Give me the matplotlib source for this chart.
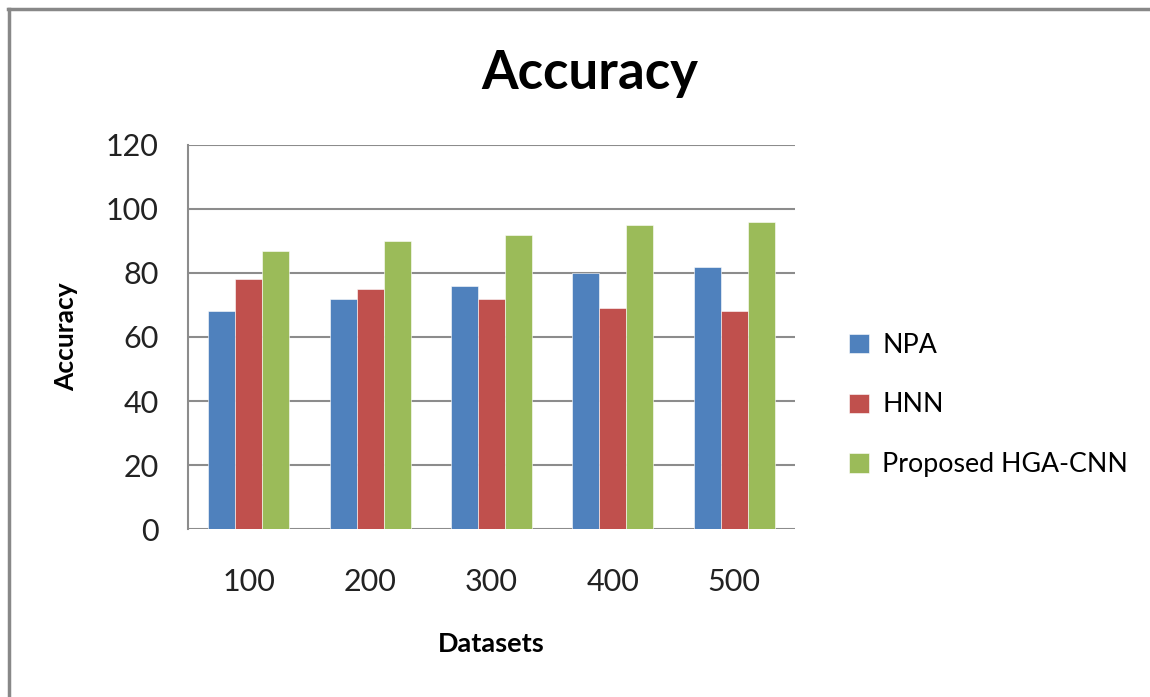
import numpy as np
import matplotlib.pyplot as plt

datasets = ["100", "200", "300", "400", "500"]
npa = [68, 72, 76, 80, 82]
hnn = [78, 75, 72, 69, 68]
hga_cnn = [87, 90, 92, 95, 96]
series = ["NPA", "HNN", "Proposed HGA-CNN"]
colors = ["#4F81BD", "#C0504D", "#9BBB59"]
yticks = [0, 20, 40, 60, 80, 100, 120]

plt.rcParams['font.family'] = ['Lato', 'DejaVu Sans']

fig = plt.figure(figsize=(11.5, 6.97), dpi=100)
ax = fig.add_axes([0.1635, 0.241, 0.5278, 0.551])

x = np.arange(len(datasets))
w = 1 / 4.5
for i, (vals, name, c) in enumerate(zip([npa, hnn, hga_cnn], series, colors)):
    ax.bar(x + (i - 1) * w, vals, w, color=c, label=name,
           edgecolor='white', linewidth=0.4, zorder=3)

ax.set_xlim(-0.5, len(datasets) - 0.5)
ax.set_ylim(0, 120)
ax.set_yticks(yticks)
ax.set_xticks(x)
ax.set_xticklabels(datasets)
ax.yaxis.grid(True, color='#8c8c8c', linewidth=1.5, zorder=0)
for s in ['top', 'right', 'bottom']:
    ax.spines[s].set_visible(False)
ax.spines['left'].set_color('#8c8c8c')
ax.spines['left'].set_linewidth(1.5)
ax.tick_params(axis='both', length=0, labelsize=22, colors='#222222')
ax.tick_params(axis='x', pad=28)
ax.tick_params(axis='y', pad=21)

ax.set_xlabel("Datasets", fontsize=19.5, fontweight='bold', labelpad=26)
ax.set_ylabel("Accuracy", fontsize=19, fontweight='bold', labelpad=20)
fig.text(0.513, 0.895, "Accuracy", fontsize=38, fontweight='bold',
         ha='center', va='center')

leg = ax.legend(loc='center left', bbox_to_anchor=(1.05, 0.323), frameon=False,
                fontsize=19.3, handlelength=0.72, handleheight=0.72,
                labelspacing=1.3, handletextpad=0.5)

# outer chart border (only left and top visible in the reference)
fig.add_artist(plt.Line2D([0.008, 0.008], [0, 0.987], color='#888888',
                          linewidth=2.5, transform=fig.transFigure))
fig.add_artist(plt.Line2D([0.007, 1], [0.987, 0.987], color='#888888',
                          linewidth=2.5, transform=fig.transFigure))

fig.savefig("out.png", dpi=100)
